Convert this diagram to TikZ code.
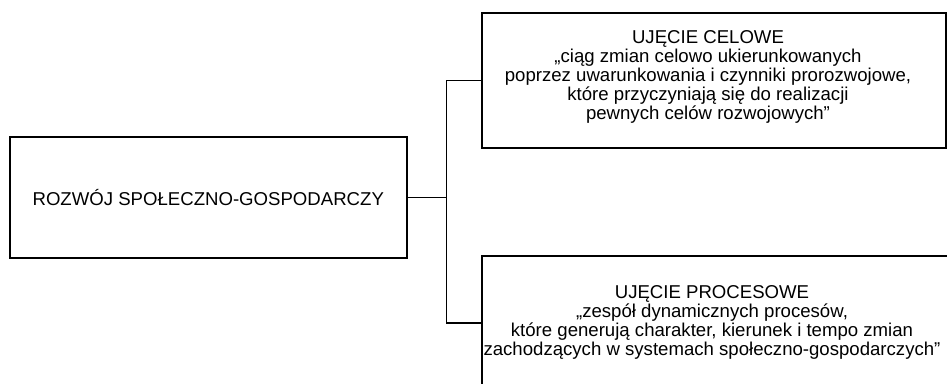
\documentclass[tikz,border=0pt]{standalone}
\usepackage{fontspec}
\setmainfont{Liberation Sans}

\begin{document}
\begin{tikzpicture}[x=1pt, y=-1pt,
	box/.style={draw, line width=1.5pt, inner sep=0pt},
	txt/.style={align=center, font=\fontsize{18.6}{19}\selectfont}]
	\useasboundingbox (0,0) rectangle (947,383);
	\clip (0,0) rectangle (947,383);
	\node[box, txt, minimum width=397, minimum height=121, anchor=north west] (rozwoj) at (9,136) {ROZWÓJ SPOŁECZNO-GOSPODARCZY};
	\node[box, minimum width=464, minimum height=135, anchor=north west] (celowe) at (481,12) {};
	\node[txt] (celowe-tekst) at (708,77)
		{UJĘCIE CELOWE\\ „ciąg zmian celowo ukierunkowanych\\ poprzez uwarunkowania i czynniki prorozwojowe,\\ które przyczyniają się do realizacji\\ pewnych celów rozwojowych”};
	% dolna ramka wychodzi poza kadr
	\node[box, minimum width=480, minimum height=134, anchor=north west] (procesowe) at (481,255) {};
	\node[txt] (procesowe-tekst) at (712,322)
		{UJĘCIE PROCESOWE\\ „zespół dynamicznych procesów,\\ które generują charakter, kierunek i tempo zmian\\ zachodzących w systemach społeczno-gospodarczych”};
	% polaczenia
	\draw[line width=1.5pt] (rozwoj.east) -- ++(39,0) coordinate (rozgal) |- (celowe.west);
	\draw[line width=1.5pt] (rozgal) |- (procesowe.west);
\end{tikzpicture}
\end{document}
